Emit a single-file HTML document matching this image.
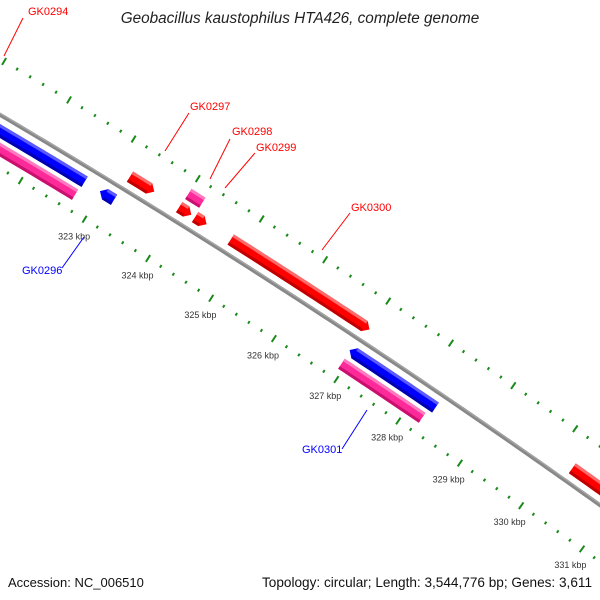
<!DOCTYPE html>
<html><head><meta charset="utf-8"><style>
html,body{margin:0;padding:0;background:#fff;overflow:hidden;width:600px;height:600px}
svg{display:block;font-family:"Liberation Sans",sans-serif}
</style></head><body>
<svg id="map" width="600" height="600" viewBox="0 0 600 600">
<rect width="600" height="600" fill="#fff"/>
<text x="300" y="23" text-anchor="middle" font-size="15.3" font-style="italic" fill="#222">Geobacillus kaustophilus HTA426, complete genome</text>
<g id="ticks"></g>
<g id="backbone"></g>
<g id="feats"></g>
<g font-size="11">
<line x1="4" y1="56" x2="23" y2="18" stroke="#f00"/>
<text x="28" y="15" fill="#f00">GK0294</text>
<line x1="165" y1="151" x2="189" y2="113" stroke="#f00"/>
<text x="190" y="110" fill="#f00">GK0297</text>
<line x1="210" y1="179" x2="230" y2="139" stroke="#f00"/>
<text x="232" y="135" fill="#f00">GK0298</text>
<line x1="225" y1="188" x2="255" y2="153" stroke="#f00"/>
<text x="256" y="151" fill="#f00">GK0299</text>
<line x1="322" y1="250" x2="350" y2="213" stroke="#f00"/>
<text x="351" y="211" fill="#f00">GK0300</text>
<line x1="62" y1="268" x2="84" y2="237" stroke="#00f"/>
<text x="22" y="274" fill="#00f">GK0296</text>
<line x1="342" y1="449" x2="367" y2="410" stroke="#00f"/>
<text x="302" y="453" fill="#00f">GK0301</text>
</g>
<text x="8" y="587" font-size="13" fill="#111">Accession: NC_006510</text>
<text x="592" y="587" text-anchor="end" font-size="13.6" fill="#111">Topology: circular; Length: 3,544,776 bp; Genes: 3,611</text>
</svg>
<script>
const featStart = [318, 318, 322.98, 323.22, 323.99, 324.24, 324.0, 324.8, 326.93, 326.94, 330.27];
const featEnd   = [322.74, 322.72, 323.2, 323.6, 324.18, 324.42, 324.22, 327.0, 328.31, 328.24, 334];
const featStrand = [-1, -1, -1, 1, 1, 1, 1, 1, -1, -1, 1];
const featType = ['gene', 'orf', 'gene', 'gene', 'gene', 'gene', 'orf', 'gene', 'gene', 'orf', 'gene'];
const featNames = ['gk0295', 'orf-left', 'gk0296', 'gk0297', 'gk0298-cds', 'gk0299', 'gk0298', 'gk0300', 'gk0301', 'orf-gk0301', 'gk0302'];
const tickMin = 318, tickMax = 335;

const NS = 'http://www.w3.org/2000/svg';
const R = 8200, PX_PER_KBP = 75;
const ox = 0.545, oy = -0.839;
const Cx = 299 - R * ox, Cy = 300 - R * oy;
function pt(p, off) {
  const phi = (p - 326) * PX_PER_KBP / R;
  const c = Math.cos(phi), s = Math.sin(phi);
  const rx = ox * c - oy * s, ry = ox * s + oy * c;
  return [Cx + (R + off) * rx, Cy + (R + off) * ry];
}
function mk(tag, attrs, parent) {
  const e = document.createElementNS(NS, tag);
  for (const k in attrs) e.setAttribute(k, attrs[k]);
  parent.appendChild(e);
  return e;
}
function path(p0, p1, off) {
  const pts = [];
  const n = Math.max(2, Math.ceil((p1 - p0) * 10));
  for (let i = 0; i <= n; i++) pts.push(pt(p0 + (p1 - p0) * i / n, off));
  return pts;
}
const bb = document.getElementById('backbone');
const bpts = path(317, 336, 0).map(q => q.join(',')).join(' ');
const bl = mk('polyline', {points: bpts, fill: 'none', stroke: '#888', 'stroke-width': 4}, bb);


const bl2 = mk('polyline', {points: bpts, fill: 'none', stroke: '#aaa', 'stroke-width': 1, transform: 'translate(0.5,-1)'}, bb);



const tg = document.getElementById('ticks');
for (let k = 0; k <= Math.round((tickMax - tickMin) * 5); k++) {
  const p = tickMin + k * 0.2;
  const major = (k % 5 === 0);
  const len = major ? 8 : 3;
  [48, -46].forEach(function (off) {
    const a = pt(p, off - len / 2), b = pt(p, off + len / 2);
    const ln = mk('line', {x1: a[0], y1: a[1], x2: b[0], y2: b[1], stroke: '#1a8a1a', 'stroke-width': 2}, tg);
    
    
  });
  if (major) {
    const lp = pt(p, -66);
    if (lp[0] < 25) continue;
    const t = mk('text', {x: lp[0], y: lp[1] + 3, 'text-anchor': 'middle', 'font-size': 9, fill: '#333'}, tg);
    t.textContent = Math.round(p) + ' kbp';
    
    
  }
}

const fg = document.getElementById('feats');
const HW = 6, HEAD = 6 / PX_PER_KBP;
for (let i = 0; i < featStart.length; i++) {
  const s = featStart[i], e = featEnd[i], st = featStrand[i];
  const orf = featType[i] === 'orf';
  const off = (orf ? 30 : 14) * st;
  const col = orf ? '#ff2a9a' : (st > 0 ? '#ff0000' : '#0000ff');
  const light = orf ? '#ff7ac0' : (st > 0 ? '#ff6a6a' : '#5a5aff');
  const dark = orf ? '#c8106e' : (st > 0 ? '#c00000' : '#0000b0');
  let bs = s, be = e;
  if (!orf) { if (st > 0) be = e - HEAD; else bs = s + HEAD; }
  const outer = path(bs, be, off + HW), inner = path(bs, be, off - HW).reverse();
  let poly = outer.slice();
  if (!orf && st > 0) poly.push(pt(e, off));
  poly = poly.concat(inner);
  if (!orf && st < 0) poly.push(pt(s, off));
  const g = mk('g', {}, fg);
  
  
  const pg = mk('polygon', {points: poly.map(q => q.join(',')).join(' '), fill: col}, g);
  
  
  const hl = mk('polyline', {points: path(bs, be, off + HW - 1.5).map(q => q.join(',')).join(' '), fill: 'none', stroke: light, 'stroke-width': 3}, g);
  
  
  const sh = mk('polyline', {points: path(bs, be, off - HW + 1.5).map(q => q.join(',')).join(' '), fill: 'none', stroke: dark, 'stroke-width': 3}, g);
  
  
}
</script>
</body></html>
